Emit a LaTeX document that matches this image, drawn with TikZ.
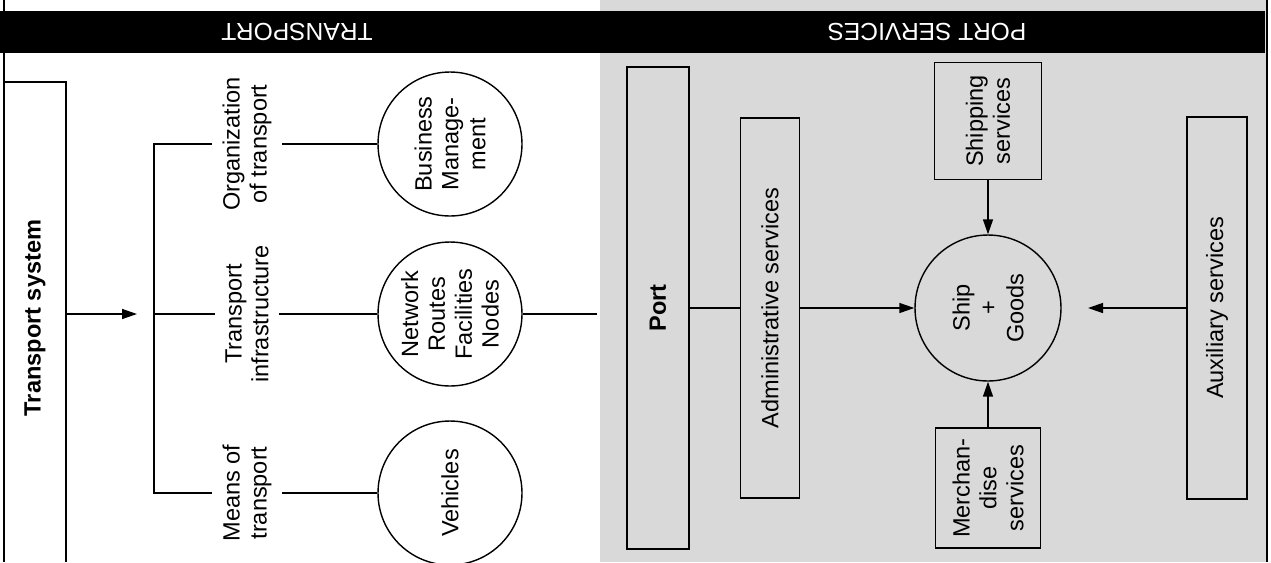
\documentclass[tikz,border=0pt]{standalone}
\usepackage{fontspec}
\setmainfont{Liberation Sans}
\usetikzlibrary{arrows.meta}

\newcommand{\lblsize}{\fontsize{13.4}{15.3}\selectfont}
\tikzset{
  lbl/.style={rotate=90, align=center, inner sep=0.2cm, font=\lblsize},
  blob/.style={draw, circle, rotate=90, align=center, inner sep=0pt, minimum size=2.88cm, font=\lblsize},
  svcbox/.style={draw, rectangle, line width=1pt, rotate=90, align=center, inner sep=0pt, font=\lblsize},
  headtext/.style={rotate=180, text=white, font=\fontsize{14}{16}\selectfont},
  arr/.style={-{Triangle[length=0.3cm,width=0.2cm]}},
}

\begin{document}
\begin{tikzpicture}[x=0.02cm, y=-0.02cm, line width=0.8pt]
                \useasboundingbox (0,0) rectangle (1271,562);
                % shaded port side and black header bar
                \fill[gray!30] (600,0) rectangle (1266,562);
                \fill[black] (0,11) rectangle (1265,53);
                \node[headtext] (hdtrans) at (297,32) {TRANSPORT};
                \node[headtext] (hdport) at (927,32) {PORT SERVICES};
                \draw (4,0) -- (4,562);
                \draw (1267,0) -- (1267,562);

                % Transport system
                \draw[line width=1pt] (4,82) -- (66,82) -- (66,562);
                \node[rotate=90, font=\lblsize\bfseries] (tsys) at (35,318) {Transport system};
                \coordinate (tsysedge) at (66,314);
                \coordinate (forktip) at (137,314);
                \coordinate (fork) at (154,314);
                \draw[arr] (tsysedge) -- (forktip);

                \node[lbl] (orgl) at (247,144) {Organization\\of transport};
                \node[lbl] (infl) at (247,314) {Transport\\infrastructure};
                \node[lbl] (meanl) at (247,493) {Means of\\transport};
                \draw (orgl.north) -- (orgl.north -| fork) -- (meanl.north -| fork) -- (meanl.north);
                \draw (fork) -- (infl.north);

                \node[blob] (bizc) at (450,144) {Business\\Manage-\\ment};
                \node[blob] (netc) at (450,314) {Network\\Routes\\Facilities\\Nodes};
                \node[blob] (vehc) at (450,493) {Vehicles};
                \draw (orgl.south) -- (bizc);
                \draw (infl.south) -- (netc);
                \draw (meanl.south) -- (vehc);
                \coordinate (portedge) at (597,314);
                \draw (netc) -- (portedge);

                % Port services
                \node[svcbox, minimum width=9.64cm, minimum height=1.24cm, font=\lblsize\bfseries] (port) at (658,308) {Port};
                \node[svcbox, minimum width=7.6cm, minimum height=1.18cm] (admin) at (770,308) {Administrative services};
                \node[blob, minimum size=2.92cm] (ship) at (988,308) {Ship\\+\\Goods};
                \node[svcbox, minimum width=2.34cm, minimum height=2.14cm] (shipbox) at (988,121) {Shipping\\services};
                \node[svcbox, minimum width=2.4cm, minimum height=2.1cm] (merchbox) at (988,488) {Merchan-\\dise\\services};
                \node[svcbox, minimum width=7.64cm, minimum height=1.2cm] (aux) at (1217,308) {Auxiliary services};
                \coordinate (auxtip) at (1088,308);
                \draw (port) -- (admin);
                \draw[arr] (admin) -- (ship);
                \draw[arr] (shipbox) -- (ship);
                \draw[arr] (merchbox) -- (ship);
                \draw[arr] (aux) -- (auxtip);
\end{tikzpicture}
\end{document}
